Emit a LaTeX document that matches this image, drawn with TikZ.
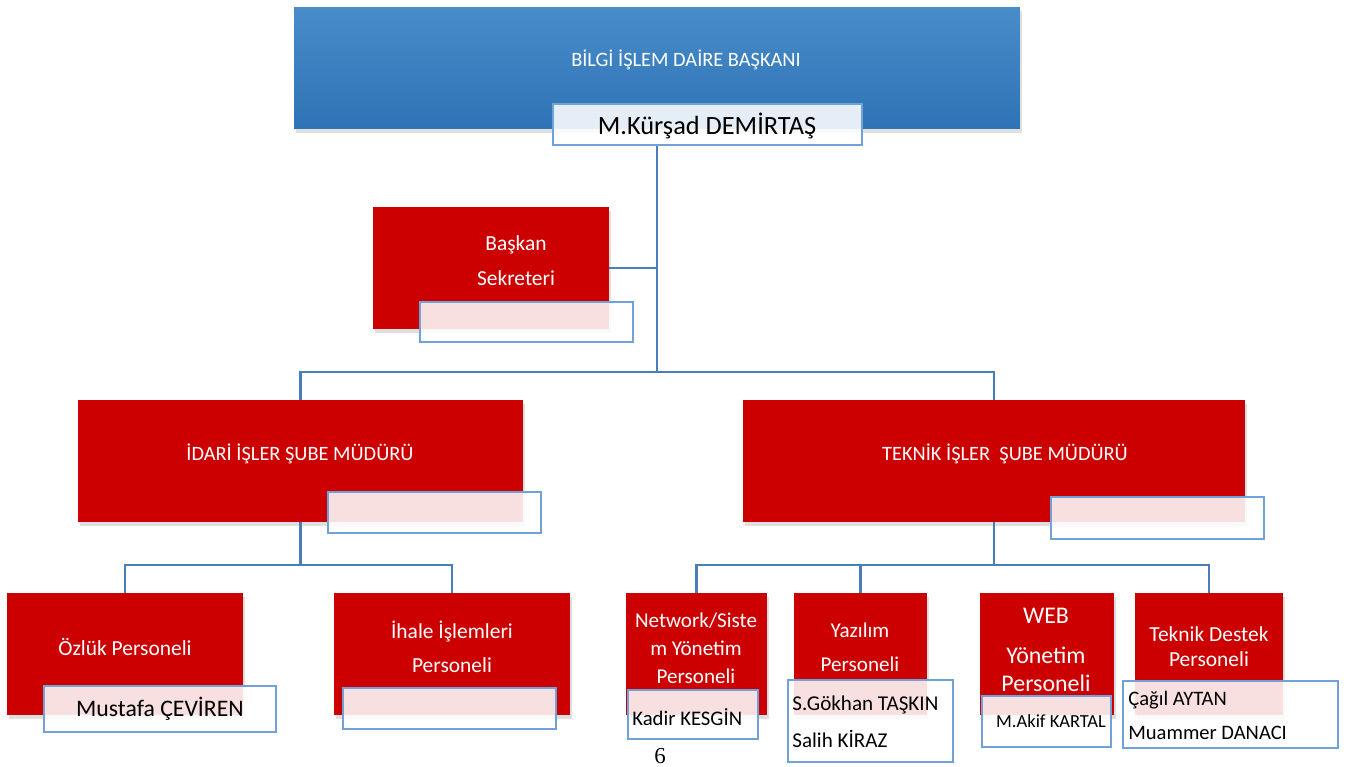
\documentclass[tikz,border=0pt]{standalone}
\usepackage{fontspec}
\setmainfont{Carlito}
\newfontfamily\pagefont{Liberation Serif}
\usetikzlibrary{shadows}

\definecolor{boxred}{RGB}{204,0,0}
\definecolor{topblue}{RGB}{72,140,202}
\definecolor{botblue}{RGB}{46,115,181}
\definecolor{linkblue}{RGB}{74,126,187}
\definecolor{namebord}{RGB}{112,162,216}

\begin{document}
\begin{tikzpicture}[x=0.02cm,y=-0.02cm,
  redbox/.style={rectangle,fill=boxred,inner sep=0pt,minimum height=2.44cm,
    drop shadow={shadow xshift=1.2pt,shadow yshift=-2pt,opacity=0.25}},
  namebox/.style={rectangle,draw=namebord,line width=0.8pt,fill=white,fill opacity=0.88,inner sep=0pt},
  conn/.style={draw=linkblue,line width=1.6pt},
  lbl/.style={text=white,align=center,inner sep=0pt},
  nm/.style={text=black,align=left,inner sep=0pt}]
\useasboundingbox (0,0) rectangle (1355,767);
\tikzstyle{every node}+=[inner sep=0pt]

\coordinate (split1) at (657,372);
\coordinate (split2) at (300.5,565);
\coordinate (split3) at (994,565);

\node[rectangle,top color=topblue,bottom color=botblue,minimum width=14.52cm,minimum height=2.44cm,
  drop shadow={shadow xshift=1.2pt,shadow yshift=-2pt,opacity=0.25}] (top) at (657,68) {};
\node[redbox,minimum width=4.72cm] (sek) at (491,268) {};
\node[redbox,minimum width=8.9cm] (idari) at (300.5,461) {};
\node[redbox,minimum width=10.04cm] (teknik) at (994,461) {};
\node[redbox,minimum width=4.72cm] (ozluk) at (125,654) {};
\node[redbox,minimum width=4.72cm] (ihale) at (452,654) {};
\node[redbox,minimum width=2.82cm] (network) at (696.5,654) {};
\node[redbox,minimum width=2.66cm] (yazilim) at (860.5,654) {};
\node[redbox,minimum width=2.68cm] (web) at (1047,654) {};
\node[redbox,minimum width=2.96cm] (destek) at (1209,654) {};

\draw[conn] (top.center |- 0,145) -- (split1);
\draw[conn] (sek.east) -- (sek.east -| split1);
\draw[conn] (idari.north) |- (split1) -| (teknik.north);
\draw[conn] (idari.south) -- (split2);
\draw[conn] (ozluk.north) |- (split2) -| (ihale.north);
\draw[conn] (teknik.south) -- (split3);
\draw[conn] (network.north) |- (split3) -| (destek.north);
\draw[conn] (yazilim.north) -- (yazilim.north |- split3);

\node[lbl,font=\fontsize{11.6}{14}\selectfont] (toptxt) at (686,60) {BİLGİ İŞLEM DAİRE BAŞKANI};
\node[lbl,font=\fontsize{12.2}{19.8}\selectfont] (sektxt) at (516,261) {Başkan\\Sekreteri};
\node[lbl,font=\fontsize{11.6}{14}\selectfont] (idaritxt) at (300,454) {İDARİ İŞLER ŞUBE MÜDÜRÜ};
\node[lbl,font=\fontsize{11.6}{14}\selectfont] (tekniktxt) at (1005,454) {TEKNİK İŞLER\ \ ŞUBE MÜDÜRÜ};
\node[lbl,font=\fontsize{12.2}{14}\selectfont] (ozluktxt) at (125,647) {Özlük Personeli};
\node[lbl,font=\fontsize{12.2}{19.3}\selectfont] (ihaletxt) at (452,647) {İhale İşlemleri\\Personeli};
\node[lbl,font=\fontsize{12}{15.9}\selectfont] (networktxt) at (696,648) {Network/Siste\\m Yönetim\\Personeli};
\node[lbl,font=\fontsize{12}{19.3}\selectfont] (yazilimtxt) at (860,647) {Yazılım\\Personeli};
\node[lbl,font=\fontsize{13.6}{15.9}\selectfont] (webtxt) at (1046,650) {WEB\\[6.5pt]Yönetim\\Personeli};
\node[lbl,font=\fontsize{12.2}{14.2}\selectfont] (destektxt) at (1209,646.5) {Teknik Destek\\Personeli};

\node[namebox,minimum width=6.18cm,minimum height=0.82cm] (topname) at (707.5,124.5) {};
\node[namebox,minimum width=4.26cm,minimum height=0.8cm] (sekname) at (526.5,322) {};
\node[namebox,minimum width=4.26cm,minimum height=0.82cm] (idariname) at (434.5,512.5) {};
\node[namebox,minimum width=4.26cm,minimum height=0.84cm] (teknikname) at (1157.5,518) {};
\node[namebox,minimum width=4.64cm,minimum height=0.92cm] (ozlukname) at (160,709) {};
\node[namebox,minimum width=4.26cm,minimum height=0.82cm] (ihalename) at (449.5,708.5) {};
\node[namebox,minimum width=2.6cm,minimum height=0.98cm] (networkname) at (693,714.5) {};
\node[namebox,minimum width=3.3cm,minimum height=1.64cm] (yazilimname) at (870.5,721) {};
\node[namebox,minimum width=2.58cm,minimum height=1.02cm] (webname) at (1046.5,721.5) {};
\node[namebox,minimum width=4.3cm,minimum height=1.34cm] (destekname) at (1230.5,714.5) {};

\node[nm,font=\fontsize{15}{18}\selectfont] (topnametxt) at (707,126) {M.Kürşad DEMİRTAŞ};
\node[nm,font=\fontsize{13.5}{16}\selectfont] (ozluknametxt) at (160,709) {Mustafa ÇEVİREN};
\node[nm,anchor=west,font=\fontsize{11.8}{14}\selectfont] (networknametxt) at (632,717) {Kadir KESGİN};
\node[nm,anchor=west,font=\fontsize{12}{21}\selectfont] (yazilimnametxt) at (792,721.5) {S.Gökhan TAŞKIN\\Salih KİRAZ};
\node[nm,font=\fontsize{10.5}{12}\selectfont] (webnametxt) at (1051,721) {M.Akif KARTAL};
\node[nm,anchor=west,font=\fontsize{11.7}{19.8}\selectfont] (desteknametxt) at (1128,715.5) {Çağıl AYTAN\\Muammer DANACI};

\node[font=\pagefont\fontsize{13}{15}\selectfont] (pagenum) at (660,756) {6};
\end{tikzpicture}
\end{document}
